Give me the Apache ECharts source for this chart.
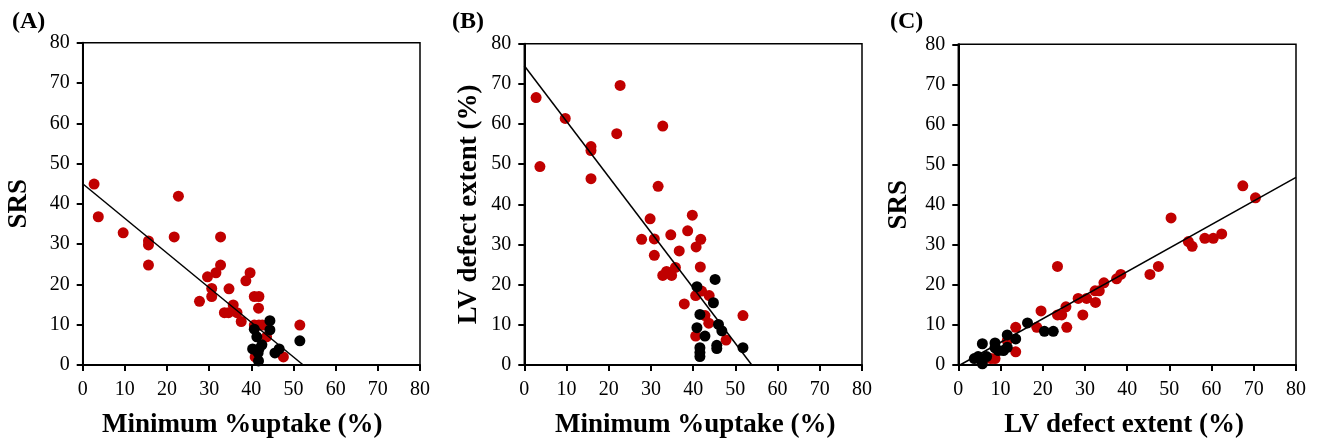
<!DOCTYPE html>
<html>
<head>
<meta charset="utf-8">
<script src="https://cdn.jsdelivr.net/npm/echarts@6/dist/echarts.min.js"></script>
<style>
  html, body { margin: 0; padding: 0; background: #fff; }
  #chart { width: 1320px; height: 444px; }
</style>
</head>
<body>
<div id="chart"></div>
<script>
// (A) SRS vs minimum %uptake
var redA = [[2.7,44.9],[3.7,36.8],[9.6,32.8],[15.6,30.8],[15.6,29.8],[15.6,24.8],[21.7,31.8],[22.7,41.9],
  [27.7,15.8],[29.6,21.9],[30.6,19],[30.6,17],[31.6,22.9],[32.7,31.8],[32.7,24.8],[33.6,13],[34.6,13],
  [34.7,18.9],[35.7,14.9],[36.6,13],[37.6,10.8],[38.7,20.9],[39.7,22.9],[40.7,17],[41.8,17],[41.7,14.1],
  [40.7,9.9],[41.8,9.9],[42.6,9.9],[43.6,7],[40.9,2],[47.6,2],[51.5,9.9]];
var blackA = [[44.4,11],[44.4,8.7],[40.7,8.9],[41.3,7],[40.3,4],[41.8,4],[42.5,5],[41.6,3],[41.7,1],
  [45.6,3],[46.6,4],[51.5,6]];
var fitA = [[0,45],[52.3,0]];

// (B) LV defect extent vs minimum %uptake
var redB = [[2.8,66.6],[3.7,49.4],[9.7,61.4],[15.8,54.4],[15.8,53.4],[15.8,46.4],[21.9,57.6],[22.7,69.6],
  [27.8,31.3],[29.8,36.4],[30.8,31.4],[30.8,27.3],[31.7,44.5],[32.8,59.5],[32.8,22.3],[33.7,23.3],
  [34.9,22.3],[34.7,32.4],[35.8,24.3],[36.7,28.4],[37.9,15.2],[38.7,33.4],[39.8,37.3],[40.7,29.4],
  [41.8,31.3],[41.7,24.4],[40.6,17.3],[42,18.4],[43.8,17.3],[42.8,12.3],[43.7,10.4],[40.6,7.2],
  [47.8,6.2],[51.8,12.3]];
var blackB = [[40.9,19.5],[45.2,21.3],[44.8,15.5],[41.6,12.6],[40.9,9.3],[42.8,7.2],[46,10.1],[46.8,8.5],
  [45.6,4.9],[45.6,4.1],[41.6,4.3],[41.6,3.1],[41.6,2.1],[51.8,4.3]];
var fitB = [[0,74.5],[53.9,0]];

// (C) SRS vs LV defect extent
var redC = [[67.4,44.7],[70.4,41.7],[50.4,36.7],[54.5,30.8],[55.4,29.6],[58.4,31.6],[60.4,31.6],[62.4,32.7],
  [45.4,22.6],[47.4,24.6],[23.5,24.6],[37.5,21.5],[38.5,22.6],[34.5,20.5],[33.4,18.5],[32.4,18.5],
  [32.5,15.6],[30.4,16.6],[28.4,16.6],[29.5,12.5],[25.5,14.5],[24.5,12.5],[23.5,12.5],[25.7,9.4],
  [19.6,13.5],[18.6,9.4],[13.6,9.4],[13.6,3.3],[11.6,6.1],[7.7,1.6],[8.7,1.6]];
var blackC = [[16.4,10.5],[20.4,8.4],[22.5,8.4],[11.6,7.5],[13.6,6.5],[8.7,5.5],[5.7,5.3],[8.7,4.3],
  [10.7,3.6],[11.6,4.4],[9.5,3.6],[3.8,1.6],[4.7,2.1],[6.7,2.1],[5.7,0.3]];
var fitC = [[0.4,0],[80,46.8]];

var panelLabels = ['(A)', '(B)', '(C)'];
var xNames = ['Minimum %uptake (%)', 'Minimum %uptake (%)', 'LV defect extent (%)'];
var yNames = ['SRS', 'LV defect extent (%)', 'SRS'];

var serif = 'Liberation Serif';
var red = '#c00000';

var grids = [
  { left: 82.7, top: 42.7, width: 337.3, height: 322.3 },
  { left: 524.3, top: 43.7, width: 337.7, height: 322 },
  { left: 958.3, top: 44.3, width: 337.7, height: 323.7 }
];
var yGaps = [50, 42, 46];
var xNamePad = [[0, 18, 0, 0], [0, 0, 0, 4], [0, 6, 0, 0]];
var labelX = [7, 447, 885];

function axis(name, idx, isY) {
  return {
    type: 'value', gridIndex: idx, min: 0, max: 80, interval: 10,
    name: name, nameLocation: 'middle', nameGap: isY ? yGaps[idx] : 47,
    nameTextStyle: { fontFamily: serif, fontWeight: 'bold', fontSize: 27, color: '#000',
      padding: isY ? 0 : xNamePad[idx] },
    axisLine: { show: true, lineStyle: { color: '#000', width: 2 } },
    axisTick: { show: true, length: 6, lineStyle: { color: '#000', width: 2 } },
    axisLabel: { fontFamily: serif, fontSize: 20, color: '#000', margin: isY ? 13 : 15 },
    splitLine: { show: false }
  };
}

var sets = [[redA, blackA, fitA], [redB, blackB, fitB], [redC, blackC, fitC]];
var series = [];
sets.forEach(function (s, i) {
  series.push({ type: 'scatter', xAxisIndex: i, yAxisIndex: i, data: s[0], symbolSize: 11,
    itemStyle: { color: red, opacity: 1 }, silent: true });
  series.push({ type: 'scatter', xAxisIndex: i, yAxisIndex: i, data: s[1], symbolSize: 11,
    itemStyle: { color: '#000', opacity: 1 }, silent: true });
  series.push({ type: 'line', xAxisIndex: i, yAxisIndex: i, data: s[2], symbol: 'none',
    lineStyle: { color: '#000', width: 1.5 }, silent: true, z: 5 });
});

var chart = echarts.init(document.getElementById('chart'));
chart.setOption({
  animation: false,
  backgroundColor: '#fff',
  title: panelLabels.map(function (t, i) {
    return { text: t, left: labelX[i], top: 5,
      textStyle: { fontFamily: serif, fontWeight: 'bold', fontSize: 24, color: '#000' } };
  }),
  grid: grids.map(function (g) {
    return Object.assign({ show: true, borderColor: '#000', borderWidth: 1.5, backgroundColor: 'transparent' }, g);
  }),
  xAxis: xNames.map(function (n, i) { return axis(n, i, false); }),
  yAxis: yNames.map(function (n, i) { return axis(n, i, true); }),
  series: series
});
</script>
</body>
</html>
